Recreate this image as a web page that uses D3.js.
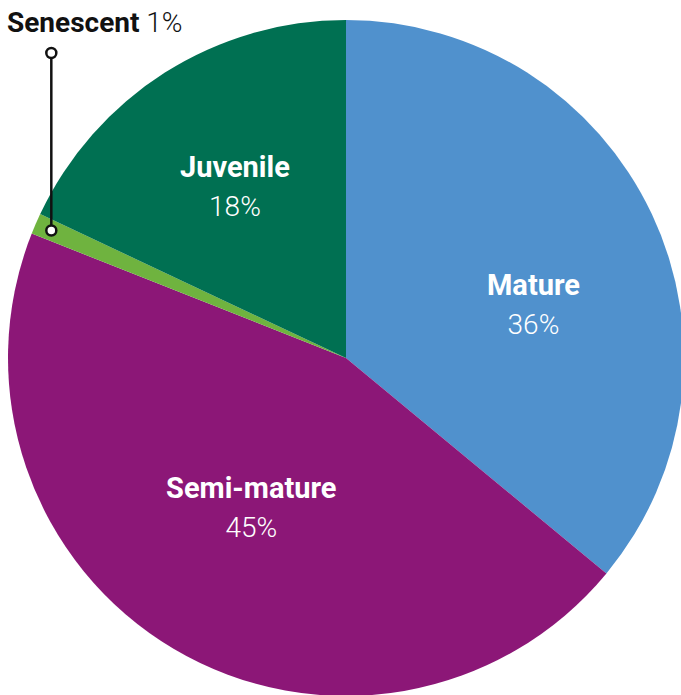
<!DOCTYPE html>
<html>
<head>
<meta charset="utf-8">
<script src="https://cdn.jsdelivr.net/npm/d3@7"></script>
<style>
  html, body { margin: 0; padding: 0; background: #fff; }
  svg { display: block; font-family: Roboto, 'Noto Sans', sans-serif; }
</style>
</head>
<body>
<svg id="chart" width="681" height="695"></svg>
<script>
// data
const categories = ['Mature', 'Semi-mature', 'Senescent', 'Juvenile'];
const shares = [36, 45, 1, 18];
const colours = ['#5091cd', '#8c1777', '#6fb33f', '#007052'];

const width = 681;
const height = 695;
const cx = 346;
const cy = 358;
const radius = 338;

const svg = d3.select('#chart');
const g = svg.append('g').attr('transform', `translate(${cx},${cy})`);

const pie = d3.pie().sort(null).value((d) => d.value);
const arcs = pie(categories.map((c, i) => ({ name: c, value: shares[i], colour: colours[i] })));

const arc = d3.arc().innerRadius(0).outerRadius(radius);

g.selectAll('path.slice')
  .data(arcs)
  .join('path')
  .attr('class', 'slice')
  .attr('d', arc)
  .attr('fill', (d) => d.data.colour);

// labels inside the big slices (Mature nudged down a bit, like the original)
const angleNudge = { Mature: 0.2, Juvenile: -0.03, 'Semi-mature': 0.01 };
const labelRadius = { Mature: 193, Juvenile: 198, 'Semi-mature': 183 };

const inside = arcs.filter((d) => d.data.value > 5);
inside.forEach((d) => {
  const a = (d.startAngle + d.endAngle) / 2 + (angleNudge[d.data.name] || 0);
  const r = labelRadius[d.data.name];
  const x = Math.sin(a) * r;
  const y = -Math.cos(a) * r;

  const t = g.append('text')
    .attr('x', x)
    .attr('y', y)
    .attr('text-anchor', 'middle')
    .attr('fill', '#fff');

  t.append('tspan')
    .attr('x', x)
    .attr('dy', -17)
    .attr('font-size', 29)
    .attr('font-weight', 700)
    .text(d.data.name);

  t.append('tspan')
    .attr('x', x)
    .attr('dy', 39)
    .attr('font-size', 28)
    .attr('font-weight', 300)
    .text(d.data.value + '%');
});

// small slice gets a leader line out to the top
const small = arcs.find((d) => d.data.value <= 5);
const mid = (small.startAngle + small.endAngle) / 2;
const px = Math.sin(mid) * radius * 0.95;
const py = -Math.cos(mid) * radius * 0.95;
const topY = 53 - cy;

g.append('line')
  .attr('x1', px).attr('y1', py)
  .attr('x2', px).attr('y2', topY)
  .attr('stroke', '#111')
  .attr('stroke-width', 2.5);

[py, topY].forEach((y) => {
  g.append('circle')
    .attr('cx', px)
    .attr('cy', y)
    .attr('r', 5)
    .attr('fill', '#fff')
    .attr('stroke', '#111')
    .attr('stroke-width', 2.5);
});

const st = svg.append('text')
  .attr('x', 7)
  .attr('y', 32)
  .attr('font-size', 28)
  .attr('fill', '#111');
st.append('tspan').attr('font-weight', 700).text(small.data.name);
st.append('tspan').attr('font-weight', 300).text(' ' + small.data.value + '%');
</script>
</body>
</html>
